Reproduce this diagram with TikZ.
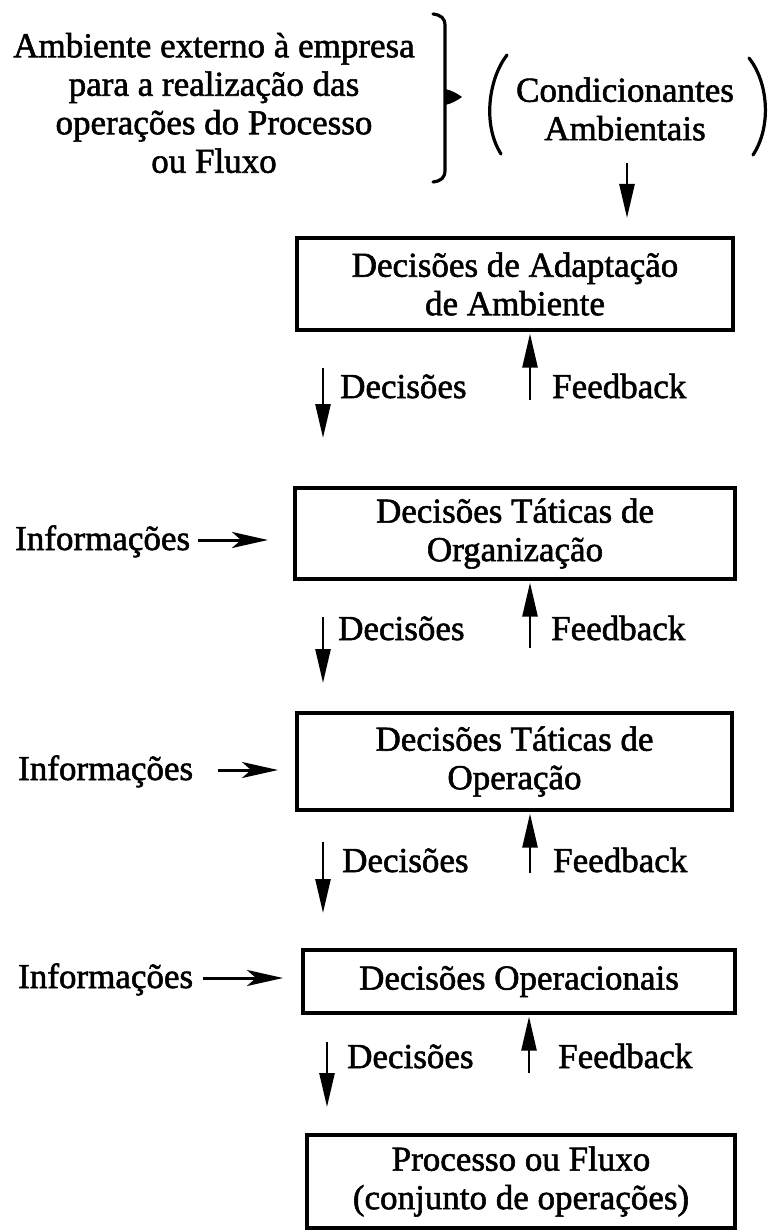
\documentclass[tikz,border=0pt]{standalone}
\usepackage{fontspec}
\setmainfont{Liberation Serif}
\newfontfamily\heavyserif{Liberation Serif}[FakeBold=1.6]
\usetikzlibrary{arrows.meta}

\tikzset{
  txt/.style={font=\heavyserif\fontsize{35}{38.5}\selectfont, align=center, inner sep=0pt},
  lbl/.style={txt, anchor=base west},
  blk/.style={txt, draw, line width=3.6pt},
  arr/.style={line width=2.6pt, -{Triangle[length=34pt,width=15pt]}},
  inarr/.style={line width=3pt, -{Stealth[length=36pt,width=16pt,inset=9pt]}},
  brk/.style={line width=3.2pt, line cap=round}
}

\begin{document}
\begin{tikzpicture}[x=1pt,y=-1pt]
\useasboundingbox (0,0) rectangle (772,1230);

% --- environment header ---
\node[txt] (amb) at (214,103) {Ambiente externo à empresa\\para a realização das\\operações do Processo\\ou Fluxo};

% closing bracket with its small pointer
\draw[brk] (433,14) .. controls (441,15) and (445,18) .. (445,26)
  -- (445,170) .. controls (445,178) and (441,181) .. (433,182);
\fill (445,89) .. controls (451,90) and (458,94) .. (462,97)
  .. controls (458,100) and (451,104) .. (445,105) -- cycle;

% parentheses round the conditioning factors
\draw[brk] (507,55) .. controls (489,78) and (482,124) .. (501,154);
\draw[brk] (749,58) .. controls (768,82) and (772,126) .. (753,155);
\node[txt] (cond) at (625,109) {Condicionantes\\Ambientais};

% --- decision levels ---
\node[blk, minimum width=436, minimum height=92] (b1) at (515,284)
  {Decisões de Adaptação\\de Ambiente};
\node[blk, minimum width=440, minimum height=91] (b2) at (515,533.5)
  {Decisões Táticas de\\Organização};
\node[blk, minimum width=435, minimum height=97] (b3) at (514.5,761.5)
  {Decisões Táticas de\\Operação};
\node[blk, minimum width=432, minimum height=63] (b4) at (519,981.5)
  {Decisões Operacionais};
\node[blk, minimum width=428, minimum height=93] (b5) at (521,1181.5)
  {Processo ou Fluxo\\(conjunto de operações)};

% arrow from the conditioning factors into the first level
\coordinate (c0) at (627,163);
\coordinate (c1) at (627,218);
\draw[arr] (c0) -- (c1);

% decisions going down
\coordinate (d1a) at (323,368);  \coordinate (d1b) at (323,438);
\coordinate (d2a) at (323,617);  \coordinate (d2b) at (323,683);
\coordinate (d3a) at (323,842);  \coordinate (d3b) at (323,913);
\coordinate (d4a) at (327,1042); \coordinate (d4b) at (327,1107);
\draw[arr] (d1a) -- (d1b);
\draw[arr] (d2a) -- (d2b);
\draw[arr] (d3a) -- (d3b);
\draw[arr] (d4a) -- (d4b);

% feedback going up into each level
\coordinate (f1) at (530,400);
\coordinate (f2) at (530,648);
\coordinate (f3) at (530,873);
\coordinate (f4) at (529,1073);
\draw[arr, shorten >=1.8pt] (f1) -- (f1 |- b1.south);
\draw[arr, shorten >=1.8pt] (f2) -- (f2 |- b2.south);
\draw[arr, shorten >=1.8pt] (f3) -- (f3 |- b3.south);
\draw[arr, shorten >=1.8pt] (f4) -- (f4 |- b4.south);

% labels of the vertical flows
\node[lbl] (dl1) at (340,398) {Decisões};
\node[lbl] (fl1) at (552,398) {Feedback};
\node[lbl] (dl2) at (338,640) {Decisões};
\node[lbl] (fl2) at (551,640) {Feedback};
\node[lbl] (dl3) at (342,872) {Decisões};
\node[lbl] (fl3) at (553,872) {Feedback};
\node[lbl] (dl4) at (347,1068) {Decisões};
\node[lbl] (fl4) at (558,1068) {Feedback};

% information entering from the left
\node[lbl] (in2) at (15,550) {Informações};
\node[lbl] (in3) at (18,780) {Informações};
\node[lbl] (in4) at (18,988) {Informações};
\coordinate (i2a) at (198,540); \coordinate (i2b) at (268,540);
\coordinate (i3a) at (218,770); \coordinate (i3b) at (278,770);
\coordinate (i4a) at (203,978); \coordinate (i4b) at (283,978);
\draw[inarr] (i2a) -- (i2b);
\draw[inarr] (i3a) -- (i3b);
\draw[inarr] (i4a) -- (i4b);
\end{tikzpicture}
\end{document}
